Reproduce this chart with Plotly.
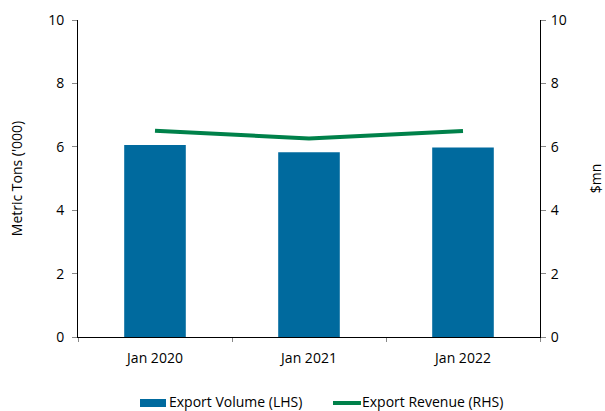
import plotly.graph_objects as go

# Monthly export figures
categories = ["Jan 2020", "Jan 2021", "Jan 2022"]
export_volume = [6.06, 5.83, 5.98]    # metric tons ('000), left axis
export_revenue = [6.51, 6.26, 6.50]   # $mn, right axis

series_names = ["Export Volume (LHS)", "Export Revenue (RHS)"]
bar_color = "#006A9E"
line_color = "#00814A"

font_family = "Open Sans"
text_color = "#000000"

W, H = 605, 411
M_L, M_R, M_T, M_B = 78, 65, 20, 74
PLOT_W = W - M_L - M_R
PLOT_H = H - M_T - M_B


def px_x(px):
    """Pixel column -> paper x coordinate."""
    return (px - M_L) / PLOT_W


def px_y(py):
    """Pixel row -> paper y coordinate."""
    return (H - M_B - py) / PLOT_H


fig = go.Figure()
fig.add_trace(go.Bar(
    x=categories, y=export_volume, name=series_names[0],
    marker=dict(color=bar_color, line=dict(width=0)),
    width=0.4, yaxis="y", showlegend=False,
))
fig.add_trace(go.Scatter(
    x=categories, y=export_revenue, name=series_names[1],
    mode="lines", line=dict(color=line_color, width=4),
    yaxis="y2", showlegend=False,
))

axis_font = dict(family=font_family, size=14, color=text_color)

# Legend drawn below the plot: a filled swatch for the bars, a stroke for the line
legend_shapes = [
    dict(type="rect", xref="paper", yref="paper",
         x0=px_x(140), x1=px_x(166), y0=px_y(407), y1=px_y(399),
         fillcolor=bar_color, line=dict(width=0)),
    dict(type="line", xref="paper", yref="paper",
         x0=px_x(333), x1=px_x(361), y0=px_y(403), y1=px_y(403),
         line=dict(color=line_color, width=4)),
]
legend_labels = [
    dict(text=series_names[0], xref="paper", yref="paper",
         x=px_x(168), y=px_y(401.5), xanchor="left", yanchor="middle",
         showarrow=False, font=axis_font, borderpad=0),
    dict(text=series_names[1], xref="paper", yref="paper",
         x=px_x(361), y=px_y(401.5), xanchor="left", yanchor="middle",
         showarrow=False, font=axis_font, borderpad=0),
]

fig.update_layout(
    width=W, height=H,
    margin=dict(l=M_L, r=M_R, t=M_T, b=M_B, autoexpand=False),
    paper_bgcolor="white", plot_bgcolor="white",
    font=axis_font,
    showlegend=False,
    shapes=legend_shapes,
    annotations=legend_labels,
    xaxis=dict(
        type="category", showgrid=False, showline=True, linecolor="black", linewidth=1,
        ticks="outside", tickson="boundaries", ticklen=4, tickcolor="#888888",
        tickfont=axis_font, ticklabelstandoff=8,
    ),
    yaxis=dict(
        range=[0, 10], dtick=2, showgrid=False, zeroline=False,
        showline=True, linecolor="black", linewidth=1,
        ticks="outside", ticklen=5, tickcolor="#888888",
        tickfont=axis_font, ticklabelstandoff=5,
        title=dict(text="Metric Tons ('000)", font=axis_font, standoff=22),
    ),
    yaxis2=dict(
        range=[0, 10], dtick=2, overlaying="y", side="right", showgrid=False,
        zeroline=False, showline=True, linecolor="black", linewidth=1,
        ticks="outside", ticklen=5, tickcolor="#888888",
        tickfont=axis_font, ticklabelstandoff=2,
        title=dict(text="$mn", font=axis_font, standoff=26),
    ),
    bargap=0.6,
)

fig.write_html("out.html")
